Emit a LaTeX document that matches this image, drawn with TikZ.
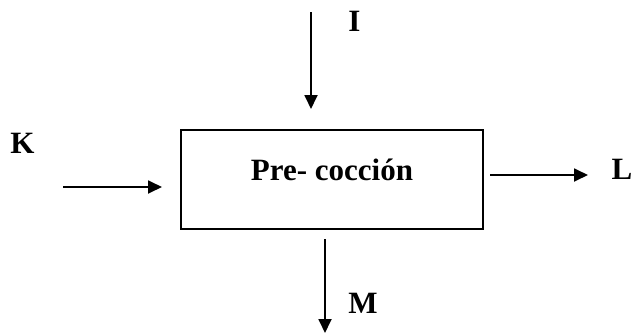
\documentclass[tikz,border=0pt]{standalone}
\usepackage{fontspec}
\setmainfont{Liberation Serif}
\usetikzlibrary{arrows.meta}

\begin{document}
\begin{tikzpicture}[x=1pt, y=-1pt,
    flow/.style={line width=1.8pt, -{Triangle[length=14pt,width=13pt]}},
    lbl/.style={font=\fontsize{31}{37}\selectfont\bfseries, inner sep=0pt, anchor=base}]
    \useasboundingbox (0,0) rectangle (632,335);
    \node[draw, line width=2pt, minimum width=302pt, minimum height=99pt, inner sep=0pt,
          font=\fontsize{31}{37}\selectfont\bfseries, text height=22pt, text depth=21pt]
          (proc) at (332,179.5) {Pre- cocción};
    \coordinate (Itail) at (311,12);
    \coordinate (Ktail) at (63,187);
    \coordinate (Lhead) at (588,175);
    \coordinate (Mhead) at (325,333);
    \draw[flow, shorten >=20pt] (Itail) -- (Itail |- proc.north);
    \draw[flow, shorten >=18pt] (Ktail) -- (Ktail -| proc.west);
    \draw[flow, shorten <=6pt] (Lhead -| proc.east) -- (Lhead);
    \draw[flow, shorten <=9pt] (Mhead |- proc.south) -- (Mhead);
    \node[lbl] (I) at (354.5,31) {I};
    \node[lbl] (K) at (22.5,153) {K};
    \node[lbl] (L) at (622,179) {L};
    \node[lbl] (M) at (363,313) {M};
\end{tikzpicture}
\end{document}
